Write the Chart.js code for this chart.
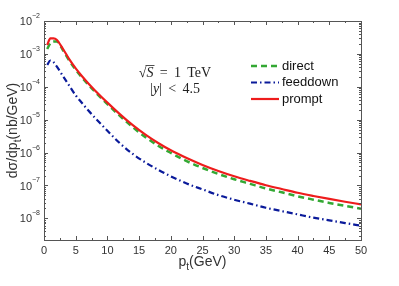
<!DOCTYPE html>
<html>
<head>
<meta charset="utf-8">
<script src="https://cdn.jsdelivr.net/npm/chart.js@4"></script>
<style>
  html, body { margin: 0; padding: 0; background: #fff; }
  #wrap { width: 399px; height: 286px; }
</style>
</head>
<body>
<div id="wrap"><canvas id="chart" width="399" height="286"></canvas></div>
<script>
// values (pt in GeV, cross sections in nb/GeV)
const pt = [0.5, 1, 1.5, 2, 3, 4, 5, 6, 7, 8, 10, 12, 14, 16, 18, 20, 22.5, 25, 27.5, 30, 32.5, 35, 37.5, 40, 42.5, 45, 47.5, 50];
const direct = [1.41e-3, 2.1e-3, 2.4e-3, 2.4e-3, 1.29e-3, 6.2e-4, 3.3e-4, 1.9e-4, 1.15e-4, 7.2e-5, 2.95e-5, 1.29e-5, 5.9e-6, 2.95e-6, 1.62e-6, 9.8e-7, 5.5e-7, 3.4e-7, 2.24e-7, 1.55e-7, 1.12e-7, 8.1e-8, 6.2e-8, 4.7e-8, 3.7e-8, 2.95e-8, 2.4e-8, 1.97e-8];
const feeddown = [4.6e-4, 6.3e-4, 5.6e-4, 4.2e-4, 2.1e-4, 1.07e-4, 5.5e-5, 3.2e-5, 1.9e-5, 1.17e-5, 4.6e-6, 1.9e-6, 9.1e-7, 5.0e-7, 3.0e-7, 1.9e-7, 1.15e-7, 7.6e-8, 5.1e-8, 3.7e-8, 2.8e-8, 2.1e-8, 1.66e-8, 1.32e-8, 1.05e-8, 8.7e-9, 7.2e-9, 6.0e-9];
const prompt = [1.86e-3, 2.95e-3, 2.95e-3, 2.69e-3, 1.41e-3, 6.8e-4, 3.63e-4, 2.09e-4, 1.26e-4, 7.9e-5, 3.3e-5, 1.45e-5, 6.8e-6, 3.5e-6, 1.95e-6, 1.17e-6, 6.8e-7, 4.2e-7, 2.75e-7, 1.9e-7, 1.38e-7, 1.02e-7, 7.8e-8, 6.0e-8, 4.8e-8, 3.9e-8, 3.2e-8, 2.66e-8];

const xTicks = [0, 5, 10, 15, 20, 25, 30, 35, 40, 45, 50];
const yTickExps = [-8, -7, -6, -5, -4, -3, -2];

const toPoints = (ys) => pt.map((x, i) => ({ x: x, y: ys[i] }));

const frameColor = '#555';
const textColor = '#333';

const decorations = {
    id: 'decorations',
    afterDraw(chart) {
        const ctx = chart.ctx;
        const area = chart.chartArea;
        const xs = chart.scales.x;
        const ys = chart.scales.y;
        ctx.save();

        // frame
        ctx.strokeStyle = frameColor;
        ctx.lineWidth = 1;
        ctx.strokeRect(Math.round(area.left) + 0.5, Math.round(area.top) + 0.5,
            Math.round(area.right - area.left), Math.round(area.bottom - area.top));

        // x ticks (major + minor halfway) on bottom and top
        ctx.beginPath();
        for (let i = 0; i < xTicks.length; i++) {
            const px = Math.round(xs.getPixelForValue(xTicks[i])) + 0.5;
            ctx.moveTo(px, area.bottom); ctx.lineTo(px, area.bottom - 4);
            ctx.moveTo(px, area.top); ctx.lineTo(px, area.top + 4);
            if (i < xTicks.length - 1) {
                const mx = Math.round(xs.getPixelForValue((xTicks[i] + xTicks[i + 1]) / 2)) + 0.5;
                ctx.moveTo(mx, area.bottom); ctx.lineTo(mx, area.bottom - 2);
                ctx.moveTo(mx, area.top); ctx.lineTo(mx, area.top + 2);
            }
        }
        // y ticks (decades + minor) on left and right
        for (let e = yTickExps[0] - 1; e <= yTickExps[yTickExps.length - 1]; e++) {
            for (let m = 1; m <= 9; m++) {
                const v = m * Math.pow(10, e);
                if (v < ys.min || v > ys.max) continue;
                const py = Math.round(ys.getPixelForValue(v)) + 0.5;
                const len = m === 1 ? 4 : 2;
                ctx.moveTo(area.left, py); ctx.lineTo(area.left + len, py);
                ctx.moveTo(area.right, py); ctx.lineTo(area.right - len, py);
            }
        }
        ctx.stroke();

        // x tick labels
        ctx.fillStyle = textColor;
        ctx.font = '11px "Liberation Sans", Arial, sans-serif';
        ctx.textAlign = 'center';
        ctx.textBaseline = 'top';
        xTicks.forEach((v) => {
            ctx.fillText(String(v), xs.getPixelForValue(v), area.bottom + 5);
        });

        // y tick labels 10^e
        ctx.textBaseline = 'middle';
        yTickExps.forEach((e) => {
            const py = ys.getPixelForValue(Math.pow(10, e));
            ctx.font = '7px "Liberation Sans", Arial, sans-serif';
            const sup = '\u2212' + String(-e);
            const supW = ctx.measureText(sup).width;
            ctx.textAlign = 'right';
            ctx.fillText(sup, area.left - 4, py - 5);
            ctx.font = '11px "Liberation Sans", Arial, sans-serif';
            ctx.fillText('10', area.left - 4 - supW, py + 1);
        });

        // x axis title p_t(GeV)
        ctx.textBaseline = 'alphabetic';
        ctx.textAlign = 'left';
        const big = '14px "Liberation Sans", Arial, sans-serif';
        const small = '10px "Liberation Sans", Arial, sans-serif';
        ctx.font = big;
        const wp = ctx.measureText('p').width;
        const wr = ctx.measureText('(GeV)').width;
        ctx.font = small;
        const wt = ctx.measureText('t').width;
        const xc = (area.left + area.right) / 2;
        let x0 = xc - (wp + wt + wr) / 2;
        const xb = 266;
        ctx.font = big; ctx.fillText('p', x0, xb);
        ctx.font = small; ctx.fillText('t', x0 + wp, xb + 4);
        ctx.font = big; ctx.fillText('(GeV)', x0 + wp + wt, xb);

        // y axis title dσ/dp_t(nb/GeV)
        ctx.save();
        ctx.translate(17, (area.top + area.bottom) / 2);
        ctx.rotate(-Math.PI / 2);
        ctx.font = big;
        const w1 = ctx.measureText('d\u03c3/dp').width;
        const w3 = ctx.measureText('(nb/GeV)').width;
        ctx.font = small;
        const w2 = ctx.measureText('t').width;
        let y0 = -(w1 + w2 + w3) / 2;
        ctx.font = big; ctx.fillText('d\u03c3/dp', y0, 0);
        ctx.font = small; ctx.fillText('t', y0 + w1, 4);
        ctx.font = big; ctx.fillText('(nb/GeV)', y0 + w1 + w2, 0);
        ctx.restore();

        // annotation sqrt(S) = 1 TeV, |y| < 4.5
        ctx.fillStyle = '#222';
        ctx.strokeStyle = '#222';
        const serif = '14px "Liberation Serif", "Times New Roman", serif';
        const serifIt = 'italic 14px "Liberation Serif", "Times New Roman", serif';
        const rest = ' \u2009=\u2009 1\u2009 TeV';
        ctx.font = serif;
        const wRoot = ctx.measureText('\u221a').width;
        const wRest = ctx.measureText(rest).width;
        ctx.font = serifIt;
        const wS = ctx.measureText('S').width;
        let ax = 175 - (wRoot + wS + wRest) / 2;
        const ab = 77;
        ctx.font = serif; ctx.fillText('\u221a', ax, ab);
        ctx.font = serifIt; ctx.fillText('S', ax + wRoot, ab);
        ctx.lineWidth = 0.8;
        ctx.beginPath();
        ctx.moveTo(ax + wRoot - 1, ab - 11.5); ctx.lineTo(ax + wRoot + wS + 1, ab - 11.5);
        ctx.stroke();
        ctx.font = serif; ctx.fillText(rest, ax + wRoot + wS, ab);

        ctx.font = serif;
        const wa = ctx.measureText('|').width;
        const wc = ctx.measureText('| \u2009<\u2009 4.5').width;
        ctx.font = serifIt;
        const wy = ctx.measureText('y').width;
        let bx = 175 - (wa + wy + wc) / 2;
        const bb = 93;
        ctx.font = serif; ctx.fillText('|', bx, bb);
        ctx.font = serifIt; ctx.fillText('y', bx + wa, bb);
        ctx.font = serif; ctx.fillText('| \u2009<\u2009 4.5', bx + wa + wy, bb);

        // legend
        const rows = [
            { label: 'direct', ds: chart.data.datasets[0], y: 66 },
            { label: 'feeddown', ds: chart.data.datasets[1], y: 82.5 },
            { label: 'prompt', ds: chart.data.datasets[2], y: 99 }
        ];
        ctx.font = '13px "Liberation Sans", Arial, sans-serif';
        ctx.textBaseline = 'middle';
        rows.forEach((r) => {
            ctx.strokeStyle = r.ds.borderColor;
            ctx.lineWidth = r.ds.borderWidth;
            ctx.setLineDash(r.ds.borderDash || []);
            ctx.beginPath();
            ctx.moveTo(251, r.y); ctx.lineTo(279, r.y);
            ctx.stroke();
            ctx.setLineDash([]);
            ctx.fillStyle = '#111';
            ctx.fillText(r.label, 282, r.y);
        });

        ctx.restore();
    }
};

new Chart(document.getElementById('chart'), {
    type: 'line',
    data: {
        datasets: [
            {
                label: 'direct',
                data: toPoints(direct),
                borderColor: '#33a833',
                borderWidth: 2.5,
                borderDash: [6, 4],
                pointRadius: 0,
                cubicInterpolationMode: 'monotone',
                order: 1
            },
            {
                label: 'feeddown',
                data: toPoints(feeddown),
                borderColor: '#0a1a9a',
                borderWidth: 2.2,
                borderDash: [6, 3, 1.5, 3],
                pointRadius: 0,
                cubicInterpolationMode: 'monotone',
                order: 2
            },
            {
                label: 'prompt',
                data: toPoints(prompt),
                borderColor: '#ee1c1c',
                borderWidth: 2.2,
                pointRadius: 0,
                cubicInterpolationMode: 'monotone',
                order: 0
            }
        ]
    },
    options: {
        responsive: false,
        animation: false,
        layout: { padding: { left: 44, right: 38, top: 21, bottom: 46 } },
        plugins: {
            legend: { display: false },
            tooltip: { enabled: false }
        },
        scales: {
            x: {
                type: 'linear',
                min: 0,
                max: 50,
                grid: { display: false },
                border: { display: false },
                ticks: { display: false },
                afterFit: (scale) => { scale.height = 0; }
            },
            y: {
                type: 'logarithmic',
                min: 2.2e-9,
                max: 1e-2,
                grid: { display: false },
                border: { display: false },
                ticks: { display: false },
                afterFit: (scale) => { scale.width = 0; }
            }
        }
    },
    plugins: [decorations]
});
</script>
</body>
</html>
